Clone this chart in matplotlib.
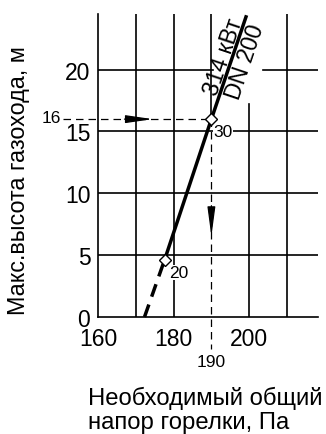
import matplotlib
matplotlib.use("Agg")
import matplotlib.pyplot as plt
import numpy as np

plt.rcParams['font.family'] = ['Liberation Sans', 'DejaVu Sans']

# Data
pressure = [172.3, 177.6, 190.0, 199.3]   # Pa
height = [0.0, 4.6, 16.0, 24.4]          # m
marker_idx = [1, 2]
marker_labels = ["20", "30"]
x_ticks = [160, 180, 200]
x_grid = [160, 170, 180, 190, 200, 210]
y_ticks = [0, 5, 10, 15, 20]
read_x = 190
read_y = 16
line_label1 = "314 кВт"
line_label2 = "DN 200"

fig = plt.figure(figsize=(3.26, 4.35), dpi=100)
ax = fig.add_axes([0.3006, 0.269, 0.6748, 0.6965])
xmin, xmax, ymin, ymax = 160, 218.2, 0, 24.5
ax.set_xlim(xmin, xmax)
ax.set_ylim(ymin, ymax)
for s in ['top', 'right']:
    ax.spines[s].set_visible(False)
for s in ['left', 'bottom']:
    ax.spines[s].set_linewidth(1.2)

ax.set_xticks(x_ticks)
ax.set_yticks(y_ticks)
ax.tick_params(length=0, labelsize=16.5)
ax.tick_params(axis='y', pad=5.5)
ax.tick_params(axis='x', pad=7)

glw = 1.2
# horizontal grid
for y in y_ticks[1:]:
    if y == 20:
        ax.plot([xmin, 190.5], [y, y], color='k', lw=glw, zorder=1)
        ax.plot([203.7, xmax], [y, y], color='k', lw=glw, zorder=1)
    else:
        ax.plot([xmin, xmax], [y, y], color='k', lw=glw, zorder=1)
# vertical grid
for x in x_grid[1:]:
    if x == 190:
        ax.plot([x, x], [read_y, ymax], color='k', lw=glw, zorder=1)
    elif x == 200:
        ax.plot([x, x], [ymin, 17.2], color='k', lw=glw, zorder=1)
    else:
        ax.plot([x, x], [ymin, ymax], color='k', lw=glw, zorder=1)

# reading lines (dashed)
ax.plot([150.7, read_x], [read_y, read_y], color='k', lw=0.9, ls=(0, (6, 4)), clip_on=False, zorder=2)
ax.plot([read_x, read_x], [read_y, -2.6], color='k', lw=0.9, ls=(0, (6, 4)), clip_on=False, zorder=2)
ax.annotate('', xy=(174.5, read_y), xytext=(167.0, read_y),
            arrowprops=dict(arrowstyle='-|>,head_length=1.65,head_width=0.24', color='k', lw=0.9,
                            shrinkA=0, shrinkB=0), zorder=3)
ax.annotate('', xy=(read_x, 6.5), xytext=(read_x, 9.0),
            arrowprops=dict(arrowstyle='-|>,head_length=1.8,head_width=0.24', color='k', lw=0.9,
                            shrinkA=0, shrinkB=0), zorder=3)

# main curve
ax.plot(pressure[1:], height[1:], color='k', lw=2.5, solid_capstyle='butt', zorder=4)
ax.plot(pressure[:2], height[:2], color='k', lw=2.5, ls=(0, (3.8, 2.4)), dash_capstyle='butt',
        clip_on=False, zorder=4)
ax.plot([pressure[i] for i in marker_idx], [height[i] for i in marker_idx], ls='none',
        marker='D', ms=6.5, mfc='white', mec='k', mew=1.0, zorder=6)

# marker labels
ax.text(190.6, 15.0, marker_labels[1], fontsize=12.5, ha='left', va='center',
        bbox=dict(fc='white', ec='none', pad=0.3), zorder=5)
ax.text(178.9, 3.6, marker_labels[0], fontsize=12.5, ha='left', va='center',
        bbox=dict(fc='white', ec='none', pad=0.3), zorder=5)

# reading labels
ax.text(150.3, read_y + 0.1, str(read_y), fontsize=12.5, ha='right', va='center')
ax.text(read_x, -3.6, str(read_x), fontsize=12.5, ha='center', va='center')

# curve labels
ax.text(193.3, 21.1, line_label1, fontsize=16.5, rotation=71.4, rotation_mode='anchor',
        ha='center', va='center', zorder=5)
ax.text(198.9, 20.7, line_label2, fontsize=16.5, rotation=71.4, rotation_mode='anchor',
        ha='center', va='center', zorder=5)

fig.text(19 / 326, 1 - 181 / 435, "Макс.высота газохода, м", rotation=90, fontsize=16.8,
         ha='center', va='center')
fig.text(88 / 326, 1 - 410 / 435, "Необходимый общий\nнапор горелки, Па", fontsize=17.2,
         ha='left', va='center', linespacing=1.12)

fig.savefig("out.png", dpi=100)
